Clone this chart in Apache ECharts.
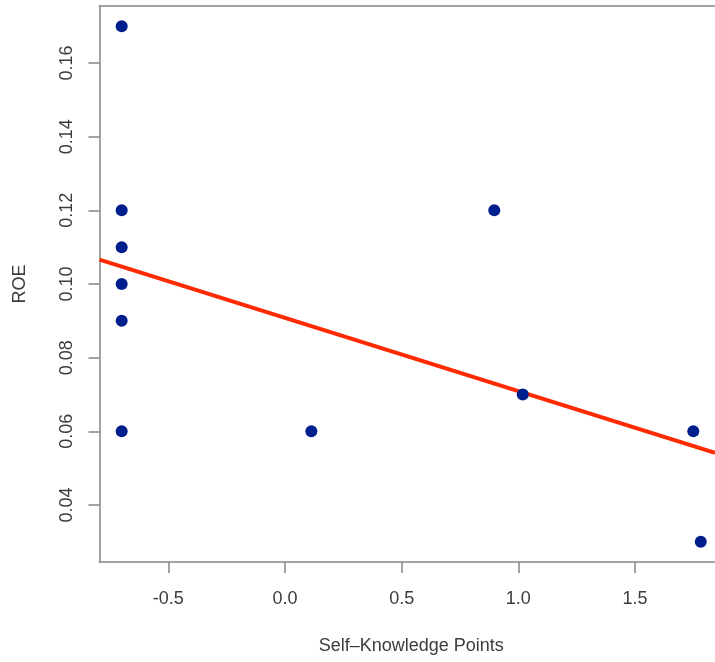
<!DOCTYPE html>
<html>
<head>
<meta charset="utf-8">
<script src="https://cdn.jsdelivr.net/npm/echarts@6/dist/echarts.min.js"></script>
<style>html,body{margin:0;padding:0;background:#fff}#c{width:715px;height:662px}</style>
</head>
<body>
<div id="c"></div>
<script>
// Data
var selfKnowledge = [-0.7, -0.7, -0.7, -0.7, -0.7, -0.7, 0.113, 0.897, 1.019, 1.750, 1.782];
var roe = [0.17, 0.12, 0.11, 0.10, 0.09, 0.06, 0.06, 0.12, 0.07, 0.06, 0.03];
var xTicks = [-0.5, 0.0, 0.5, 1.0, 1.5];
var yTicks = [0.04, 0.06, 0.08, 0.10, 0.12, 0.14, 0.16];
var xRange = [-0.795, 1.843];
var yRange = [0.0245, 0.1755];
var fitIntercept = 0.0908;
var fitSlope = -0.0199;

var points = selfKnowledge.map(function (x, i) { return [x, roe[i]]; });
var fitLine = xRange.map(function (x) { return [x, fitIntercept + fitSlope * x]; });

var font = 'Liberation Sans, Arial, sans-serif';
var txt = '#3c3c3c';
var gray = '#858585';

var chart = echarts.init(document.getElementById('c'), null, { renderer: 'canvas' });
chart.setOption({
  animation: false,
  backgroundColor: '#fff',
  grid: {
    left: 99.5, top: 6, right: 0, bottom: 100,
    show: false,
    containLabel: false
  },
  xAxis: [{
    type: 'value',
    position: 'bottom',
    min: xRange[0], max: xRange[1],
    name: 'Self\u2013Knowledge Points',
    nameLocation: 'middle',
    nameGap: 75,
    nameTextStyle: { fontFamily: font, fontSize: 18, color: txt, padding: [0, 0, 0, 8] },
    axisLine: { show: true, onZero: false, lineStyle: { color: gray, width: 1.5 } },
    splitLine: { show: false },
    axisTick: { show: true, inside: false, length: 11, customValues: xTicks, lineStyle: { color: gray, width: 1.5 } },
    axisLabel: {
      customValues: xTicks, margin: 28,
      fontFamily: font, fontSize: 18, color: txt,
      formatter: function (v) { return v.toFixed(1); }
    }
  }, {
    type: 'value',
    position: 'top',
    min: xRange[0], max: xRange[1],
    axisLine: { show: true, onZero: false, lineStyle: { color: gray, width: 1.5 } },
    splitLine: { show: false },
    axisTick: { show: false },
    axisLabel: { show: false }
  }],
  yAxis: {
    type: 'value',
    min: yRange[0], max: yRange[1],
    name: 'ROE',
    nameLocation: 'middle',
    nameGap: 70,
    nameRotate: 90,
    nameTextStyle: { fontFamily: font, fontSize: 18, color: txt },
    axisLine: { show: true, onZero: false, lineStyle: { color: gray, width: 1.5 } },
    splitLine: { show: false },
    axisTick: { show: true, inside: false, length: 11, customValues: yTicks, lineStyle: { color: gray, width: 1.5 } },
    axisLabel: {
      customValues: yTicks, margin: 23, rotate: 90,
      fontFamily: font, fontSize: 18, color: txt,
      formatter: function (v) { return v.toFixed(2); }
    }
  },
  series: [
    {
      type: 'line',
      data: fitLine,
      symbol: 'none',
      lineStyle: { color: '#ff2a00', width: 4 },
      z: 2,
      silent: true
    },
    {
      type: 'scatter',
      data: points,
      symbol: 'circle',
      symbolSize: 12,
      itemStyle: { color: '#001f8e', opacity: 1 },
      z: 3
    }
  ]
});
</script>
</body>
</html>
